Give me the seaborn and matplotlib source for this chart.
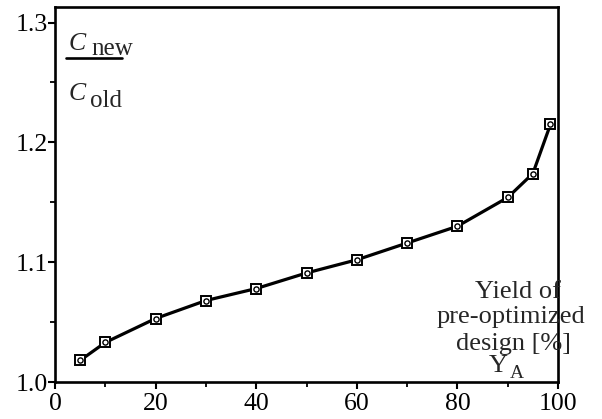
import matplotlib
matplotlib.use("Agg")
import matplotlib.pyplot as plt
import seaborn as sns
import pandas as pd
from matplotlib.lines import Line2D

# Data
yield_pct = [5, 10, 20, 30, 40, 50, 60, 70, 80, 90, 95, 98.5]
cost_ratio = [1.018, 1.033, 1.053, 1.068, 1.078, 1.091, 1.102, 1.116, 1.130, 1.154, 1.174, 1.215]
x_ticks = [0, 20, 40, 60, 80, 100]
y_ticks = [1.0, 1.1, 1.2, 1.3]
y_tick_labels = ["1.0", "1.1", "1.2", "1.3"]

df = pd.DataFrame({"yield": yield_pct, "ratio": cost_ratio})

sns.set_theme(style="ticks")
plt.rcParams["font.family"] = ["Liberation Serif", "DejaVu Serif"]

W, H = 602, 419
fig = plt.figure(figsize=(W / 100, H / 100), dpi=100)
ax = fig.add_axes([55 / W, 37 / H, 503 / W, 375 / H])

sns.lineplot(data=df, x="yield", y="ratio", ax=ax, color="black", lw=2.3,
             marker="s", markersize=7, markerfacecolor="white",
             markeredgecolor="black", markeredgewidth=1.4)
sns.scatterplot(data=df, x="yield", y="ratio", ax=ax, marker="o", s=14,
                facecolor="white", edgecolor="black", linewidth=1.0, zorder=5)

ax.set_xlim(0, 100)
ax.set_ylim(1.0, 1.313)
ax.set_xticks(x_ticks)
ax.set_xticks([10, 30, 50, 70, 90], minor=True)
ax.set_yticks(y_ticks)
ax.set_yticklabels(y_tick_labels)
ax.set_yticks([1.05, 1.15, 1.25], minor=True)
ax.set_xlabel("")
ax.set_ylabel("")

for s in ax.spines.values():
    s.set_visible(True)
    s.set_linewidth(1.9)
    s.set_color("black")

ax.tick_params(which="major", direction="out", length=5, width=1.5,
               labelsize=18.5, colors="black")
ax.tick_params(which="minor", direction="out", length=3.5, width=1.3, colors="black")
ax.tick_params(axis="y", which="major", pad=0)
ax.tick_params(axis="x", which="major", pad=3)


def fp(x, y):
    return (x / W, 1 - y / H)


# C_new / C_old label
fig.text(*fp(69, 50), "C", fontsize=18.5, style="italic", va="baseline", ha="left")
fig.text(*fp(91, 55), "new", fontsize=18, va="baseline", ha="left")
fig.add_artist(Line2D([66 / W, 122 / W], [1 - 58.5 / H, 1 - 58.5 / H],
                      transform=fig.transFigure, color="black", lw=1.9))
fig.text(*fp(69, 100), "C", fontsize=18.5, style="italic", va="baseline", ha="left")
fig.text(*fp(90, 107), "old", fontsize=18, va="baseline", ha="left")

# axis description at lower right
fig.text(*fp(518, 298), "Yield of", fontsize=19, va="baseline", ha="center")
fig.text(*fp(511, 323), "pre-optimized", fontsize=19, va="baseline", ha="center")
fig.text(*fp(513, 350), "design [%]", fontsize=19, va="baseline", ha="center")
fig.text(*fp(498, 372), "Y", fontsize=19, va="baseline", ha="center")
fig.text(*fp(509.5, 378), "A", fontsize=14, va="baseline", ha="left")

fig.savefig("out.png", dpi=100)
